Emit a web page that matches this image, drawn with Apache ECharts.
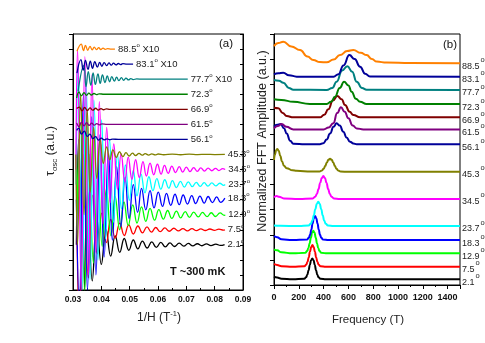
<!DOCTYPE html>
<html><head><meta charset="utf-8">
<script src="https://cdn.jsdelivr.net/npm/echarts@6/dist/echarts.min.js"></script>
<style>html,body{margin:0;padding:0;background:#fff}#c{width:485px;height:343px}</style>
</head><body><div id="c"></div>
<script>
// ---- labels & colours ----
const angles = ['2.1','7.5','12.9','18.3','23.7','34.5','45.3','56.1','61.5','66.9','72.3','77.7','83.1','88.5'];
const times10 = [false,false,false,false,false,false,false,false,false,false,false,true,true,true];
const colors = ['#000000','#FF0000','#00FF00','#0000FF','#00FFFF','#FF00FF','#808000','#000099','#800080','#800000','#008000','#008080','#000099','#FF8000'];
const xTicksA = [0.03,0.04,0.05,0.06,0.07,0.08,0.09];
const xTicksB = [0,200,400,600,800,1000,1200,1400];

// ---- panel (a): oscillations, [1/H, offset signal] ----
const osc21 = [[0.0312,3.0],[0.0320,10],[0.0336,-2],[0.0352,6.5],[0.0368,0.6],[0.0384,4.8],[0.0400,1.7],[0.0417,4.0],[0.0433,2.25],[0.0449,3.6],[0.0465,2.5],[0.0481,3.42],[0.0497,2.64],[0.0513,3.32],[0.0529,2.73],[0.0545,3.25],[0.0562,2.79],[0.0578,3.19],[0.0594,2.83],[0.0610,3.16],[0.0626,2.86],[0.0642,3.13],[0.0658,2.89],[0.0675,3.11],[0.0691,2.91],[0.0707,3.09],[0.0723,2.93],[0.0739,3.07],[0.0755,2.94],[0.0771,3.06],[0.0787,2.95],[0.0804,3.05],[0.0820,2.96],[0.0835,3.02]];
const osc75 = [[0.0314,4],[0.0322,-2],[0.0338,9],[0.0354,0.8],[0.0370,6.3],[0.0386,2.4],[0.0402,5.1],[0.0418,3.15],[0.0433,4.68],[0.0449,3.45],[0.0465,4.44],[0.0481,3.62],[0.0497,4.32],[0.0513,3.72],[0.0529,4.25],[0.0545,3.79],[0.0561,4.19],[0.0577,3.84],[0.0592,4.15],[0.0608,3.87],[0.0624,4.12],[0.0640,3.9],[0.0656,4.1],[0.0672,3.92],[0.0688,4.08],[0.0704,3.93],[0.0720,4.07],[0.0736,3.94],[0.0751,4.06],[0.0767,3.95],[0.0783,4.05],[0.0799,3.96],[0.0815,4.04],[0.0831,3.97],[0.0836,4.0]];
const osc129 = [[0.0313,5],[0.0326,11],[0.0341,0],[0.0357,9],[0.0372,1.8],[0.0388,7.6],[0.0403,2.9],[0.0418,6.7],[0.0434,3.6],[0.0449,6.2],[0.0465,4.0],[0.0480,5.85],[0.0495,4.28],[0.0511,5.65],[0.0526,4.45],[0.0542,5.52],[0.0557,4.56],[0.0572,5.42],[0.0588,4.64],[0.0603,5.34],[0.0619,4.7],[0.0634,5.28],[0.0649,4.75],[0.0665,5.24],[0.0680,4.79],[0.0696,5.2],[0.0711,4.82],[0.0726,5.17],[0.0742,4.85],[0.0757,5.15],[0.0773,4.87],[0.0788,5.13],[0.0803,4.88],[0.0819,5.12],[0.0834,4.95],[0.0837,5.0]];
const osc183 = [[0.0312,6],[0.0322,-1],[0.0337,13],[0.0351,0],[0.0366,11.5],[0.0381,1],[0.0395,10.3],[0.0410,2.2],[0.0425,9.2],[0.0439,3.3],[0.0454,8.2],[0.0469,4.2],[0.0484,7.5],[0.0498,4.75],[0.0513,7.0],[0.0528,5.15],[0.0542,6.75],[0.0557,5.32],[0.0572,6.6],[0.0586,5.45],[0.0601,6.5],[0.0616,5.55],[0.0630,6.42],[0.0645,5.62],[0.0660,6.36],[0.0675,5.67],[0.0689,6.31],[0.0704,5.71],[0.0719,6.27],[0.0733,5.74],[0.0748,6.24],[0.0763,5.77],[0.0777,6.21],[0.0792,5.8],[0.0807,6.19],[0.0821,5.82],[0.0836,6.1]];
const osc237 = [[0.0311,7],[0.0318,15],[0.0332,0],[0.0346,14],[0.0360,0.7],[0.0374,12.6],[0.0388,2],[0.0401,11.3],[0.0415,3.4],[0.0429,10],[0.0443,4.5],[0.0457,9],[0.0471,5.4],[0.0485,8.3],[0.0499,5.95],[0.0513,7.95],[0.0526,6.25],[0.0540,7.7],[0.0554,6.45],[0.0568,7.52],[0.0582,6.6],[0.0596,7.4],[0.0610,6.7],[0.0624,7.32],[0.0638,6.76],[0.0651,7.26],[0.0665,6.8],[0.0679,7.22],[0.0693,6.83],[0.0707,7.18],[0.0721,6.86],[0.0735,7.15],[0.0749,6.88],[0.0763,7.13],[0.0776,6.9],[0.0790,7.11],[0.0804,6.91],[0.0818,7.09],[0.0832,6.95],[0.0837,7.0]];
const osc345 = [[0.0310,8],[0.0316,16],[0.0329,0],[0.0342,15.5],[0.0355,1],[0.0367,14.3],[0.0380,2.5],[0.0393,12.5],[0.0406,4.4],[0.0419,10.8],[0.0431,5.8],[0.0444,9.7],[0.0457,6.7],[0.0470,9.05],[0.0483,7.2],[0.0495,8.82],[0.0508,7.35],[0.0521,8.65],[0.0534,7.47],[0.0547,8.53],[0.0559,7.57],[0.0572,8.43],[0.0585,7.65],[0.0598,8.35],[0.0611,7.7],[0.0623,8.28],[0.0636,7.75],[0.0649,8.23],[0.0662,7.8],[0.0675,8.19],[0.0687,7.83],[0.0700,8.16],[0.0713,7.86],[0.0726,8.13],[0.0739,7.88],[0.0751,8.11],[0.0764,7.9],[0.0777,8.09],[0.0790,7.92],[0.0803,8.08],[0.0815,7.93],[0.0828,8.06],[0.0837,8.0]];
const osc453 = [[0.0310,9],[0.0316,3],[0.0327,13],[0.0339,5],[0.0350,12],[0.0361,6.5],[0.0373,10.8],[0.0384,7.4],[0.0396,10.0],[0.0407,8.4],[0.0419,9.5],[0.0430,8.65],[0.0441,9.3],[0.0453,8.8],[0.0464,9.18],[0.0476,8.86],[0.0487,9.12],[0.0498,8.9],[0.0510,9.09],[0.0521,8.93],[0.0533,9.07],[0.0544,8.95],[0.0555,9.05],[0.0567,8.96],[0.0578,9.04],[0.0590,8.97],[0.0601,9.03],[0.0620,8.98],[0.0650,9.02],[0.0680,8.98],[0.0710,9.02],[0.0740,8.99],[0.0770,9.01],[0.0800,8.99],[0.0836,9.0]];
const osc561 = [[0.0313,10.6],[0.0320,10.75],[0.0330,10.35],[0.0340,10.55],[0.0350,10.2],[0.0360,10.35],[0.0370,10.05],[0.0380,10.18],[0.0390,9.95],[0.0400,10.08],[0.0410,9.97],[0.0420,10.04],[0.0430,9.98],[0.0440,10.02],[0.0460,10.0],[0.0705,10.0]];
const osc615 = [[0.0313,11.1],[0.0321,10.85],[0.0330,11.15],[0.0339,10.9],[0.0348,11.12],[0.0357,10.93],[0.0366,11.08],[0.0375,10.95],[0.0384,11.05],[0.0393,10.97],[0.0402,11.03],[0.0420,11.0],[0.0705,11.0]];
const osc669 = [[0.0313,12.05],[0.0322,12.15],[0.0332,11.9],[0.0341,12.12],[0.0351,11.92],[0.0360,12.09],[0.0370,11.94],[0.0380,12.07],[0.0389,11.95],[0.0399,12.05],[0.0408,11.97],[0.0418,12.03],[0.0430,12.0],[0.0705,12.0]];
const osc723 = [[0.0313,12.75],[0.0321,13.15],[0.0330,12.9],[0.0339,13.1],[0.0348,12.93],[0.0356,13.07],[0.0365,12.95],[0.0374,13.05],[0.0383,12.97],[0.0392,13.03],[0.0410,13.0],[0.0705,13.0]];
const osc777 = [[0.0318,13.2],[0.0338,14.9],[0.0346,13.5],[0.0354,14.5],[0.0363,13.6],[0.0371,14.42],[0.0379,13.65],[0.0388,14.35],[0.0396,13.72],[0.0404,14.28],[0.0413,13.78],[0.0421,14.22],[0.0429,13.83],[0.0437,14.17],[0.0446,13.87],[0.0454,14.13],[0.0462,13.9],[0.0471,14.1],[0.0479,13.93],[0.0487,14.07],[0.0496,13.95],[0.0504,14.04],[0.0512,13.97],[0.0525,14.02],[0.0545,14.0],[0.0705,14.0]];
const osc831 = [[0.0314,14.4],[0.0328,15.3],[0.0336,14.6],[0.0344,15.25],[0.0353,14.65],[0.0361,15.2],[0.0369,14.72],[0.0377,15.16],[0.0386,14.8],[0.0394,15.12],[0.0402,14.86],[0.0410,15.1],[0.0419,14.9],[0.0427,15.08],[0.0435,14.93],[0.0443,15.06],[0.0452,14.95],[0.0460,15.04],[0.0468,14.97],[0.0476,15.03],[0.0490,15.0],[0.0512,15.0]];
const osc885 = [[0.0314,15.85],[0.0329,16.33],[0.0337,15.9],[0.0344,16.25],[0.0352,15.92],[0.0360,16.18],[0.0368,15.94],[0.0375,16.13],[0.0383,15.96],[0.0391,16.09],[0.0398,15.97],[0.0406,16.06],[0.0414,15.98],[0.0422,16.03],[0.0435,16.0],[0.0448,16.0]];

// ---- panel (b): normalized FFT, [frequency T, offset amplitude] ----
const fft21 = [[0,0.33],[25,0.3],[60,0.25],[150,0.23],[244,0.25],[259,0.31],[269,0.41],[279,0.59],[289,0.8],[299,0.99],[309,1.06],[319,0.99],[329,0.8],[339,0.59],[349,0.41],[359,0.31],[374,0.25],[420,0.23],[1500,0.23]];
const fft75 = [[0,0.84],[25,0.8],[60,0.75],[150,0.73],[245,0.75],[260,0.81],[270,0.92],[280,1.10],[290,1.32],[300,1.51],[310,1.59],[320,1.51],[330,1.32],[340,1.10],[350,0.92],[360,0.81],[375,0.75],[420,0.73],[1500,0.73]];
const fft129 = [[0,1.42],[25,1.38],[60,1.3],[150,1.26],[252,1.28],[267,1.35],[277,1.46],[287,1.65],[297,1.88],[307,2.08],[317,2.16],[327,2.08],[337,1.88],[347,1.65],[357,1.46],[367,1.35],[382,1.28],[430,1.26],[1500,1.26]];
const fft183 = [[0,1.95],[25,1.9],[60,1.82],[150,1.79],[266,1.81],[281,1.88],[291,2.0],[301,2.2],[311,2.45],[321,2.66],[331,2.75],[341,2.66],[351,2.45],[361,2.2],[371,2.0],[381,1.88],[396,1.81],[440,1.79],[1500,1.79]];
const fft237 = [[0,2.37],[50,2.36],[200,2.35],[279,2.37],[297,2.44],[309,2.56],[321,2.77],[333,3.02],[345,3.23],[357,3.32],[369,3.23],[381,3.02],[393,2.77],[405,2.56],[417,2.44],[435,2.37],[480,2.35],[1500,2.35]];
const fft345 = [[0,3.49],[20,3.55],[40,3.52],[80,3.45],[200,3.43],[313,3.45],[333,3.52],[346,3.63],[359,3.82],[372,4.06],[385,4.26],[398,4.34],[411,4.26],[424,4.06],[437,3.82],[450,3.63],[463,3.52],[483,3.45],[530,3.43],[1500,3.43]];
const fft453 = [[0,4.98],[8,5.2],[18,5.38],[27,5.42],[38,5.35],[50,5.15],[65,4.92],[80,4.75],[102,4.65],[150,4.57],[183,4.55],[300,4.52],[367,4.52],[387,4.56],[400,4.63],[413,4.74],[426,4.88],[439,4.99],[452,5.03],[465,4.99],[478,4.88],[491,4.74],[504,4.63],[517,4.56],[537,4.52],[600,4.51],[1500,4.51]];
const fft561 = [[0,6.31],[25,6.38],[54,6.41],[80,6.25],[102,6.04],[130,5.75],[156,5.63],[250,5.61],[370,5.61],[398,5.65],[425,5.8],[452,6.04],[480,6.3],[505,6.44],[530,6.35],[559,6.11],[585,5.88],[613,5.71],[640,5.64],[667,5.61],[1500,5.61]];
const fft615 = [[0,6.24],[30,6.33],[62,6.41],[100,6.3],[156,6.2],[400,6.2],[440,6.27],[478,6.44],[510,6.85],[540,7.08],[570,6.9],[600,6.64],[635,6.35],[667,6.24],[720,6.2],[1500,6.2]];
const fft669 = [[0,7.06],[35,7.04],[70,6.85],[102,6.73],[156,6.68],[371,6.68],[405,6.78],[438,7.0],[475,7.35],[511,7.53],[545,7.4],[573,7.17],[610,6.9],[640,6.77],[694,6.68],[1500,6.68]];
const fft723 = [[0,7.4],[60,7.37],[156,7.3],[290,7.21],[425,7.21],[460,7.3],[492,7.5],[530,7.85],[565,8.1],[600,7.95],[626,7.7],[660,7.42],[694,7.3],[747,7.21],[1500,7.21]];
const fft777 = [[0,8.17],[40,8.14],[75,8.06],[120,7.85],[156,7.78],[425,7.77],[470,7.85],[505,8.1],[550,8.55],[591,8.72],[630,8.5],[667,8.1],[710,7.85],[747,7.78],[1500,7.77]];
const fft831 = [[0,8.39],[35,8.44],[75,8.46],[120,8.36],[183,8.3],[480,8.3],[520,8.4],[560,8.75],[608,9.16],[650,9.0],[694,8.7],[735,8.42],[774,8.31],[1500,8.3]];
const fft885 = [[0,9.52],[35,9.64],[75,9.69],[140,9.5],[210,9.36],[270,9.1],[317,8.96],[370,8.88],[425,8.87],[480,8.98],[532,9.16],[590,9.32],[640,9.36],[700,9.25],[747,9.16],[790,9.0],[828,8.9],[909,8.86],[1100,8.84],[1500,8.83]];

const oscData = [osc21,osc75,osc129,osc183,osc237,osc345,osc453,osc561,osc615,osc669,osc723,osc777,osc831,osc885];
const fftData = [fft21,fft75,fft129,fft183,fft237,fft345,fft453,fft561,fft615,fft669,fft723,fft777,fft831,fft885];

const FONT = 'Liberation Sans, Arial, sans-serif';
const series = [];
oscData.forEach((d, i) => {
  series.push({
    type: 'line', xAxisIndex: 0, yAxisIndex: 0, data: d, symbol: 'none', smooth: 0.45,
    silent: true, animation: false, z: 2,
    lineStyle: { color: colors[i], width: 1.3 },
    endLabel: {
      show: true, distance: 3,
      formatter: () => '{n|' + angles[i] + '}{s|o}' + (times10[i] ? '{n| X10}' : ''),
      rich: {
        n: { fontSize: 9.5, color: '#222', fontFamily: FONT },
        s: { fontSize: 6, color: '#222', fontFamily: FONT, padding: [0, 0, 7, 0] }
      }
    }
  });
});
fftData.forEach((d, i) => {
  series.push({
    type: 'line', xAxisIndex: 1, yAxisIndex: 2, data: d, symbol: 'none', smooth: 0.5, smoothMonotone: 'x',
    silent: true, animation: false, z: 2,
    lineStyle: { color: colors[i], width: 2 },
    endLabel: {
      show: true, distance: 2, offset: [0, 3],
      formatter: () => '{n|' + angles[i] + '}{s|o}',
      rich: {
        n: { fontSize: 9, color: '#222', fontFamily: FONT },
        s: { fontSize: 7.5, color: '#222', fontFamily: FONT, padding: [0, 0, 13, 1] }
      }
    }
  });
});

const axisLineStyle = { show: true, lineStyle: { color: '#000', width: 1 } };
const option = {
  animation: false,
  backgroundColor: '#fff',
  grid: [
    { left: 73, right: 242, top: 34, bottom: 53, show: true, borderColor: '#000', borderWidth: 1 },
    { left: 274, right: 25, top: 34, bottom: 58, show: true, borderColor: '#000', borderWidth: 1 }
  ],
  xAxis: [
    { type: 'value', gridIndex: 0, min: xTicksA[0], max: xTicksA[xTicksA.length - 1], interval: 0.01,
      axisLine: axisLineStyle, splitLine: { show: false },
      axisTick: { show: true, inside: true, length: 4, lineStyle: { color: '#000' } },
      minorTick: { show: true, splitNumber: 2, length: 2, lineStyle: { color: '#000' } },
      axisLabel: { margin: 5, fontSize: 8.5, fontWeight: 'bold', color: '#111', fontFamily: FONT,
        formatter: v => v.toFixed(2) } },
    { type: 'value', gridIndex: 1, min: 0, max: 1500, interval: 200,
      axisLine: axisLineStyle, splitLine: { show: false },
      axisTick: { show: true, inside: false, length: 4, lineStyle: { color: '#000' } },
      minorTick: { show: true, splitNumber: 2, length: 2, lineStyle: { color: '#000' } },
      axisLabel: { margin: 8, fontSize: 9, fontWeight: 'bold', color: '#111', fontFamily: FONT,
        formatter: v => xTicksB.indexOf(v) >= 0 ? String(v) : '' } }
  ],
  yAxis: [
    { type: 'value', gridIndex: 0, min: 0, max: 17, interval: 1, axisLine: axisLineStyle,
      splitLine: { show: false }, axisLabel: { show: false },
      axisTick: { show: true, inside: false, length: 4, lineStyle: { color: '#000' } } },
    { type: 'value', gridIndex: 0, position: 'right', min: 0, max: 17, interval: 1, axisLine: axisLineStyle,
      splitLine: { show: false }, axisLabel: { show: false },
      axisTick: { show: true, inside: true, length: 3, lineStyle: { color: '#000' } } },
    { type: 'value', gridIndex: 1, min: 0, max: 10, interval: 1, axisLine: axisLineStyle,
      splitLine: { show: false }, axisLabel: { show: false },
      axisTick: { show: true, inside: false, length: 4, lineStyle: { color: '#000' } } }
  ],
  graphic: [
    { type: 'text', left: 219, top: 38, style: { text: '(a)', font: '11.5px ' + FONT, fill: '#111' } },
    { type: 'text', left: 443, top: 39, style: { text: '(b)', font: '11.5px ' + FONT, fill: '#111' } },
    { type: 'text', left: 170, top: 266, style: { text: 'T ~300 mK', font: 'bold 11px ' + FONT, fill: '#111' } },
    { type: 'text', x: 51, y: 151, rotation: Math.PI / 2,
      style: { text: '{t|τ}{s|osc}{t| (a.u.)}', align: 'center', verticalAlign: 'middle',
        textAlign: 'center', textVerticalAlign: 'middle',
        rich: { t: { fontSize: 12.5, fontFamily: FONT, fill: '#222', color: '#222' },
                s: { fontSize: 8, fontFamily: FONT, fill: '#222', color: '#222', padding: [7, 0, 0, 0] } } } },
    { type: 'text', x: 263, y: 141, rotation: Math.PI / 2,
      style: { text: 'Normalized FFT Amplitude (a.u.)', align: 'center', verticalAlign: 'middle',
        textAlign: 'center', textVerticalAlign: 'middle', font: '12.5px ' + FONT, fill: '#222' } },
    { type: 'text', x: 159, y: 318,
      style: { text: '{t|1/H (T}{s|-1}{t|)}', align: 'center', verticalAlign: 'middle',
        textAlign: 'center', textVerticalAlign: 'middle',
        rich: { t: { fontSize: 12, fontFamily: FONT, fill: '#222', color: '#222' },
                s: { fontSize: 7.5, fontFamily: FONT, fill: '#222', color: '#222', padding: [0, 0, 8, 0] } } } },
    { type: 'text', x: 368, y: 320,
      style: { text: 'Frequency (T)', align: 'center', verticalAlign: 'middle',
        textAlign: 'center', textVerticalAlign: 'middle', font: '11.5px ' + FONT, fill: '#222' } }
  ],
  series: series
};
const chart = echarts.init(document.getElementById('c'), null, { renderer: 'canvas' });
chart.setOption(option);
</script>
</body></html>
